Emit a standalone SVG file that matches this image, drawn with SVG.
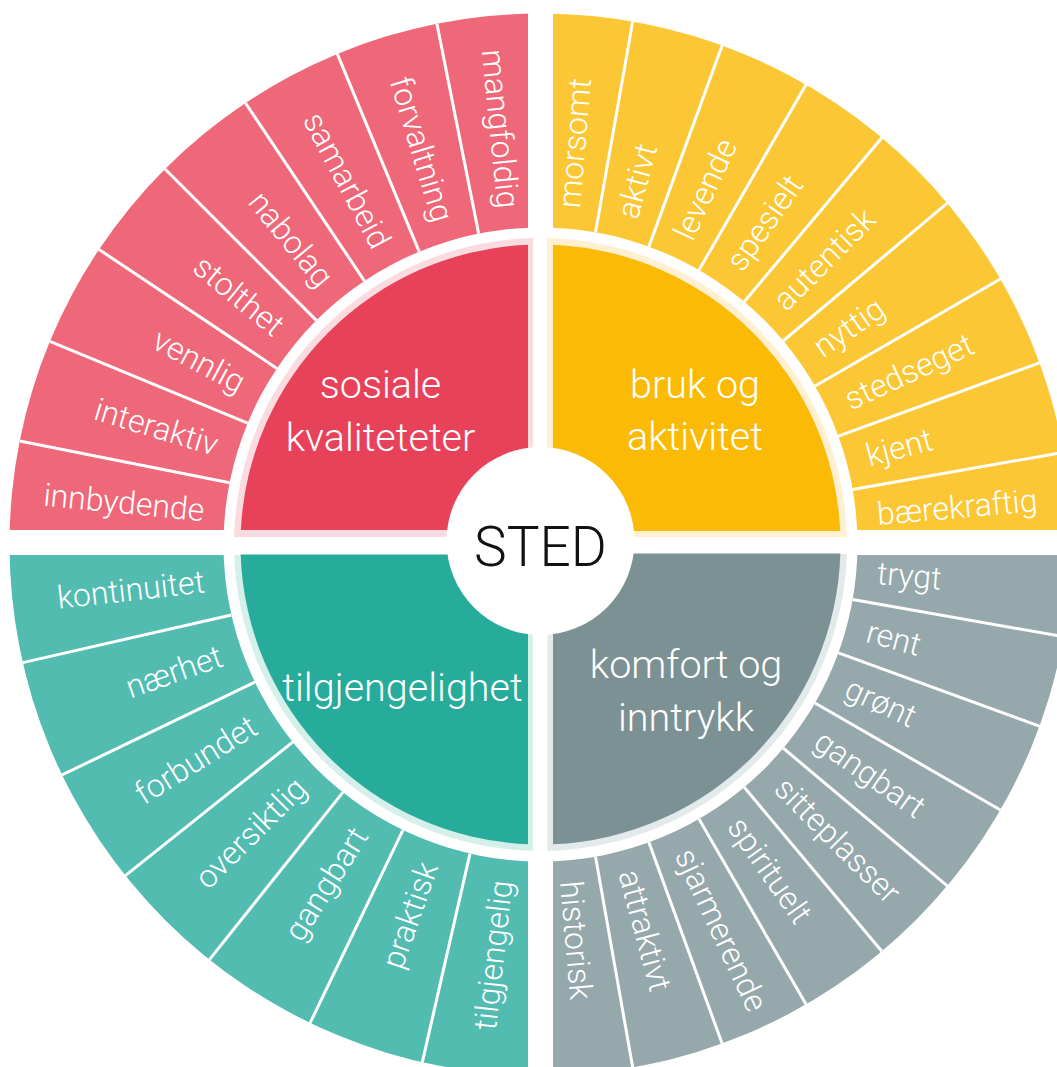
<svg xmlns="http://www.w3.org/2000/svg" width="1057" height="1067" viewBox="0 0 1057 1067">
<style>
.lbl{font-family:Roboto,"Liberation Sans",sans-serif;font-weight:300;font-size:32px;fill:#fff}
.s{text-anchor:start}
.e{text-anchor:end}
.ttl{font-family:Roboto,"Liberation Sans",sans-serif;font-weight:300;font-size:39.5px;fill:#fff;text-anchor:middle}
.dv{stroke:#fff;stroke-width:3;fill:none}
</style>
<rect width="1057" height="1067" fill="#fff"/>
<g id="ring">
<path id="ring-sosiale" fill="#EF6879" d="M9.5,544.5 A531,531 0 0 1 540.5,13.5 L540.5,227.5 A317,317 0 0 0 223.5,544.5 Z"/>
<path id="ring-bruk" fill="#FBC734" d="M540.5,13.5 A531,531 0 0 1 1071.5,544.5 L857.5,544.5 A317,317 0 0 0 540.5,227.5 Z"/>
<path id="ring-komfort" fill="#95A8AB" d="M1071.5,544.5 A531,531 0 0 1 540.5,1075.5 L540.5,861.5 A317,317 0 0 0 857.5,544.5 Z"/>
<path id="ring-tilgjengelighet" fill="#52BCB0" d="M540.5,1075.5 A531,531 0 0 1 9.5,544.5 L223.5,544.5 A317,317 0 0 0 540.5,861.5 Z"/>
</g>
<g id="connectors" class="dv">
<line x1="478.66" y1="233.59" x2="436.91" y2="23.70"/>
<line x1="419.19" y1="251.63" x2="337.30" y2="53.92"/>
<line x1="364.38" y1="280.92" x2="245.49" y2="102.99"/>
<line x1="316.35" y1="320.35" x2="165.03" y2="169.03"/>
<line x1="276.92" y1="368.38" x2="98.99" y2="249.49"/>
<line x1="247.63" y1="423.19" x2="49.92" y2="341.30"/>
<line x1="229.59" y1="482.66" x2="19.70" y2="440.91"/>
<line x1="595.55" y1="232.32" x2="632.71" y2="21.57"/>
<line x1="648.92" y1="246.62" x2="722.11" y2="45.52"/>
<line x1="699.0" y1="269.97" x2="806.0" y2="84.64"/>
<line x1="744.26" y1="301.67" x2="881.82" y2="137.73"/>
<line x1="783.33" y1="340.74" x2="947.27" y2="203.18"/>
<line x1="815.03" y1="386.0" x2="1000.36" y2="279.0"/>
<line x1="838.38" y1="436.08" x2="1039.48" y2="362.89"/>
<line x1="852.68" y1="489.45" x2="1063.43" y2="452.29"/>
<line x1="852.68" y1="599.55" x2="1063.43" y2="636.71"/>
<line x1="838.38" y1="652.92" x2="1039.48" y2="726.11"/>
<line x1="815.03" y1="703.0" x2="1000.36" y2="810.0"/>
<line x1="783.33" y1="748.26" x2="947.27" y2="885.82"/>
<line x1="744.26" y1="787.33" x2="881.82" y2="951.27"/>
<line x1="699.0" y1="819.03" x2="806.0" y2="1004.36"/>
<line x1="648.92" y1="842.38" x2="722.11" y2="1043.48"/>
<line x1="595.55" y1="856.68" x2="632.71" y2="1067.43"/>
<line x1="469.96" y1="853.55" x2="422.34" y2="1062.19"/>
<line x1="402.96" y1="830.11" x2="310.11" y2="1022.92"/>
<line x1="342.85" y1="792.34" x2="209.43" y2="959.65"/>
<line x1="292.66" y1="742.15" x2="125.35" y2="875.57"/>
<line x1="254.89" y1="682.04" x2="62.08" y2="774.89"/>
<line x1="231.45" y1="615.04" x2="22.81" y2="662.66"/>
</g>
<g id="gaps" fill="#fff">
<rect x="528" y="0" width="25" height="1067"/>
<rect x="0" y="530" width="1057" height="25"/>
</g>
<g id="q-sosiale">
<path fill="#FADCE0" d="M533,537 L533,238.09 A306.5,306.5 0 0 0 234.09,537 Z"/>
<path fill="#E8415A" d="M528,530 L528,244.76 A300,300 0 0 0 240.85,530 Z"/>
<text class="ttl" x="380.5" y="398">sosiale</text>
<text class="ttl" x="380.5" y="451">kvaliteteter</text>
</g>
<g id="q-bruk">
<path fill="#FEF0D0" d="M547,537 L547,238.07 A306.5,306.5 0 0 1 846.91,537 Z"/>
<path fill="#FBBA05" d="M553,531 L553,244.76 A300,300 0 0 1 840.2,531 Z"/>
<text class="ttl" x="695" y="398">bruk og</text>
<text class="ttl" x="695" y="450">aktivitet</text>
</g>
<g id="q-tilgjengelighet">
<path fill="#D5EFEB" d="M533,555 L234.18,555 A306.5,306.5 0 0 0 533,850.91 Z"/>
<path fill="#27AC9B" d="M528,554.5 L240.67,554.5 A300,300 0 0 0 528,844.24 Z"/>
<text class="ttl" x="402.5" y="701">tilgjengelighet</text>
</g>
<g id="q-komfort">
<path fill="#E3EAEB" d="M547.5,554 L846.85,554 A306.5,306.5 0 0 1 547.5,850.92 Z"/>
<path fill="#7B9194" d="M553,553.5 L840.36,553.5 A300,300 0 0 1 553,844.24 Z"/>
<text class="ttl" x="686" y="678">komfort og</text>
<text class="ttl" x="686" y="731">inntrykk</text>
</g>
<g id="center">
<circle cx="540.5" cy="541" r="94" fill="#fff"/>
<text x="540.5" y="565.7" text-anchor="middle" style="font-family:Roboto,'Liberation Sans',sans-serif;font-weight:300;font-size:55px;fill:#111">STED</text>
</g>
<g id="labels-sosiale" class="lbl e">
<g id="n-mangfoldig"><text transform="translate(507.37,208.13) rotate(84.375)" y="10">mangfoldig</text></g>
<g id="n-forvaltning"><text transform="translate(442.39,221.05) rotate(73.125)" y="10">forvaltning</text></g>
<g id="n-samarbeid"><text transform="translate(381.17,246.41) rotate(61.875)" y="10">samarbeid</text></g>
<g id="n-nabolag"><text transform="translate(326.08,283.22) rotate(50.625)" y="10">nabolag</text></g>
<g id="n-stolthet"><text transform="translate(279.22,330.08) rotate(39.375)" y="10">stolthet</text></g>
<g id="n-vennlig"><text transform="translate(242.41,385.17) rotate(28.125)" y="10">vennlig</text></g>
<g id="n-interaktiv"><text transform="translate(217.05,446.39) rotate(16.875)" y="10">interaktiv</text></g>
<g id="n-innbydende"><text transform="translate(204.13,511.37) rotate(5.625)" y="10">innbydende</text></g>
</g>
<g id="labels-bruk" class="lbl s">
<g id="n-morsomt"><text transform="translate(569.96,207.79) rotate(-85)" y="10">morsomt</text></g>
<g id="n-aktivt"><text transform="translate(627.98,218.02) rotate(-75)" y="10">aktivt</text></g>
<g id="n-levende"><text transform="translate(683.35,238.17) rotate(-65)" y="10">levende</text></g>
<g id="n-spesielt"><text transform="translate(734.37,267.63) rotate(-55)" y="10">spesielt</text></g>
<g id="n-autentisk"><text transform="translate(779.5,305.5) rotate(-45)" y="10">autentisk</text></g>
<g id="n-nyttig"><text transform="translate(817.37,350.63) rotate(-35)" y="10">nyttig</text></g>
<g id="n-stedseget"><text transform="translate(846.83,401.65) rotate(-25)" y="10">stedseget</text></g>
<g id="n-kjent"><text transform="translate(866.98,457.02) rotate(-15)" y="10">kjent</text></g>
<g id="n-baerekraftig"><text transform="translate(877.21,515.04) rotate(-5)" y="10">bærekraftig</text></g>
</g>
<g id="labels-komfort" class="lbl s">
<g id="n-trygt"><text transform="translate(877.21,573.96) rotate(5)" y="10">trygt</text></g>
<g id="n-rent"><text transform="translate(867.0,631.98) rotate(15)" y="10">rent</text></g>
<g id="n-gront"><text transform="translate(846.83,687.35) rotate(25)" y="10">grønt</text></g>
<g id="n-gangbart-k"><text transform="translate(817.37,738.37) rotate(35)" y="10">gangbart</text></g>
<g id="n-sitteplasser"><text transform="translate(779.5,783.5) rotate(45)" y="10">sitteplasser</text></g>
<g id="n-spirituelt"><text transform="translate(734.37,821.37) rotate(55)" y="10">spirituelt</text></g>
<g id="n-sjarmerende"><text transform="translate(683.35,850.83) rotate(65)" y="10">sjarmerende</text></g>
<g id="n-attraktivt"><text transform="translate(627.98,870.98) rotate(75)" y="10">attraktivt</text></g>
<g id="n-historisk"><text transform="translate(569.96,881.21) rotate(85)" y="10">historisk</text></g>
</g>
<g id="labels-tilgjengelighet" class="lbl e">
<g id="n-tilgjengelig"><text transform="translate(502.66,880.37) rotate(-83.571)" y="10">tilgjengelig</text></g>
<g id="n-praktisk"><text transform="translate(428.87,863.53) rotate(-70.714)" y="10">praktisk</text></g>
<g id="n-gangbart-t"><text transform="translate(360.67,830.69) rotate(-57.857)" y="10">gangbart</text></g>
<g id="n-oversiktlig"><text transform="translate(301.5,783.5) rotate(-45)" y="10">oversiktlig</text></g>
<g id="n-forbundet"><text transform="translate(254.31,724.33) rotate(-32.143)" y="10">forbundet</text></g>
<g id="n-naerhet"><text transform="translate(221.47,656.13) rotate(-19.286)" y="10">nærhet</text></g>
<g id="n-kontinuitet"><text transform="translate(204.63,582.34) rotate(-6.429)" y="10">kontinuitet</text></g>
</g>
</svg>
